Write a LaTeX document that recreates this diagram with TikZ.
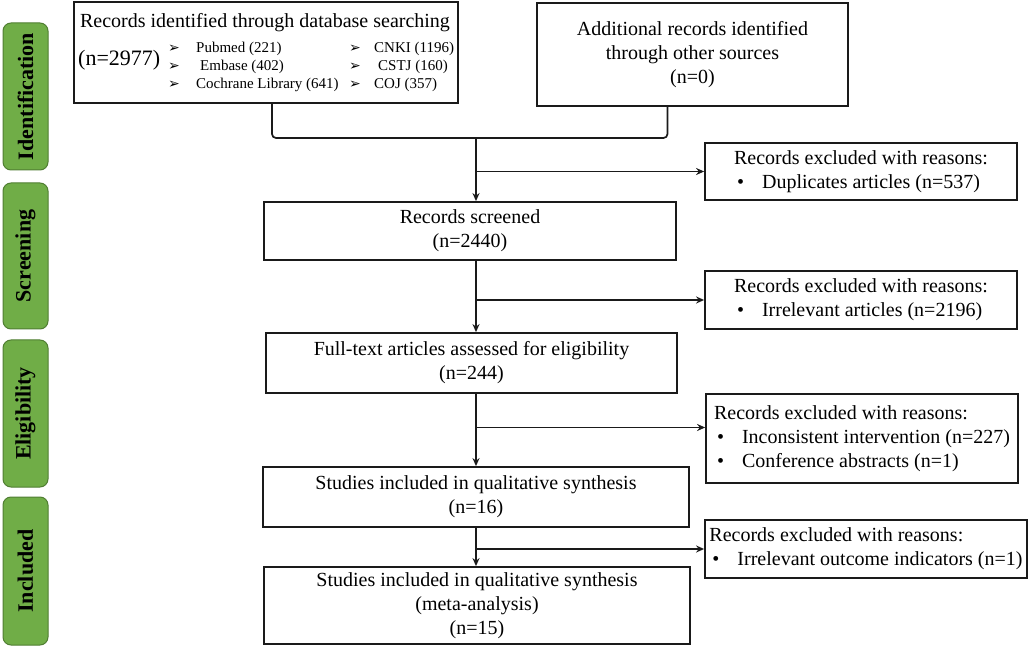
\documentclass[tikz,border=0pt]{standalone}
\usepackage{fontspec}
\setmainfont{Liberation Serif}
\newfontfamily\symfont{DejaVu Sans}
\usetikzlibrary{arrows.meta, positioning, calc}
\definecolor{stagegreen}{HTML}{70AD47}
\definecolor{stageedge}{HTML}{507E32}
\definecolor{boxline}{HTML}{1A1A1A}
\newcommand{\bul}{\hspace*{3pt}\makebox[25pt][l]{\textbullet}}
\newcommand{\pick}{{\symfont\fontsize{14}{14}\selectfont ➢}}

\begin{document}
\begin{tikzpicture}[
  x=1pt, y=-1pt,
  stagebox/.style={rectangle, rounded corners=8pt, draw=stageedge, line width=1pt, fill=stagegreen, minimum width=#1, minimum height=45pt, rotate=90, font=\fontsize{22}{26}\selectfont\bfseries, inner sep=0pt},
  flowbox/.style={rectangle, draw=boxline, line width=1.8pt, align=center, font=\fontsize{20}{24}\selectfont, inner sep=0pt},
  smalltext/.style={anchor=west, inner sep=0pt, font=\fontsize{15}{18}\selectfont},
  arrow/.style={-{Stealth[length=8pt,width=7pt]}, line width=1.7pt, color=boxline},
  link/.style={line width=1.7pt, color=boxline, rounded corners=4pt}
]
  \useasboundingbox (0,0) rectangle (1029,647);

  % Stage labels
  \node[stagebox=147pt] (st-id) at (25.5,96.5) {Identification};
  \node[stagebox=146pt] (st-scr) at (25.5,256) {Screening};
  \node[stagebox=147pt] (st-elig) at (25.5,413.5) {Eligibility};
  \node[stagebox=148pt] (st-inc) at (25.5,571) {Included};

  % Identification boxes
  \node[flowbox, minimum width=384pt, minimum height=101pt] (id) at (266,52.5) {};
  \node[font=\fontsize{20}{24}\selectfont, inner sep=0pt] (id-title) at (265,23) {Records identified through database searching};
  \node[anchor=west, inner sep=0pt, font=\fontsize{22}{26}\selectfont] (id-n) at (78,60) {(n=2977)};
  \node[inner sep=0pt] (pk1) at (174,49) {\pick};
  \node[inner sep=0pt] (pk2) at (174,67) {\pick};
  \node[inner sep=0pt] (pk3) at (174,85) {\pick};
  \node[inner sep=0pt] (pk4) at (355,49) {\pick};
  \node[inner sep=0pt] (pk5) at (355,67) {\pick};
  \node[inner sep=0pt] (pk6) at (355,85) {\pick};
  \node[smalltext] (db-pubmed) at (196,49) {Pubmed (221)};
  \node[smalltext] (db-embase) at (200,67) {Embase (402)};
  \node[smalltext] (db-cochrane) at (196,85) {Cochrane Library (641)};
  \node[smalltext] (db-cnki) at (374,49) {CNKI (1196)};
  \node[smalltext] (db-cstj) at (378,67) {CSTJ (160)};
  \node[smalltext] (db-coj) at (374,85) {COJ (357)};

  \node[flowbox, minimum width=311pt, minimum height=103pt] (other) at (692.5,54.5) {Additional records identified\\through other sources\\(n=0)};

  % Main column
  \node[flowbox, minimum width=412pt, minimum height=58pt] (screened) at (470,231) {Records screened\\(n=2440)};
  \node[flowbox, minimum width=411pt, minimum height=60pt] (fulltext) at (471.5,363) {Full-text articles assessed for eligibility\\(n=244)};
  \node[flowbox, minimum width=426pt, minimum height=60pt] (qual) at (476,497) {Studies included in qualitative synthesis\\(n=16)};
  \node[flowbox, minimum width=426pt, minimum height=77pt] (meta) at (477,605.5) {Studies included in qualitative synthesis\\(meta-analysis)\\(n=15)};

  % Exclusion boxes
  \node[flowbox, align=left, minimum width=312pt, minimum height=57pt] (excl-dup) at (861,171.5) {Records excluded with reasons:\\\bul Duplicates articles (n=537)};
  \node[flowbox, align=left, minimum width=312pt, minimum height=58pt] (excl-irr) at (861,300) {Records excluded with reasons:\\\bul Irrelevant articles (n=2196)};
  \node[flowbox, align=left, minimum width=312pt, minimum height=89pt] (excl-elig) at (862,438.5) {Records excluded with reasons:\\\bul Inconsistent intervention (n=227)\\\bul Conference abstracts (n=1)};
  \node[flowbox, align=left, minimum width=322pt, minimum height=58pt] (excl-out) at (866,549) {Records excluded with reasons:\\\bul Irrelevant outcome indicators (n=1)};

  % Connectors
  \coordinate (join) at (476,138);
  \coordinate (elig-in) at ([yshift=11pt]excl-elig.west);
  \draw[link] ([xshift=6pt]id.south) |- (join);
  \draw[link] ([xshift=-25pt]other.south) |- (join);
  \draw[arrow] (join) -- (join |- screened.north);
  \draw[arrow] (join |- excl-dup.west) -- (excl-dup.west);
  \draw[arrow] (screened.south -| join) -- (join |- fulltext.north);
  \draw[arrow] (join |- excl-irr.west) -- (excl-irr.west);
  \draw[arrow] (fulltext.south -| join) -- (join |- qual.north);
  \draw[arrow] (join |- elig-in) -- (elig-in);
  \draw[arrow] (qual.south -| join) -- (join |- meta.north);
  \draw[arrow] (join |- excl-out.west) -- (excl-out.west);
\end{tikzpicture}
\end{document}
